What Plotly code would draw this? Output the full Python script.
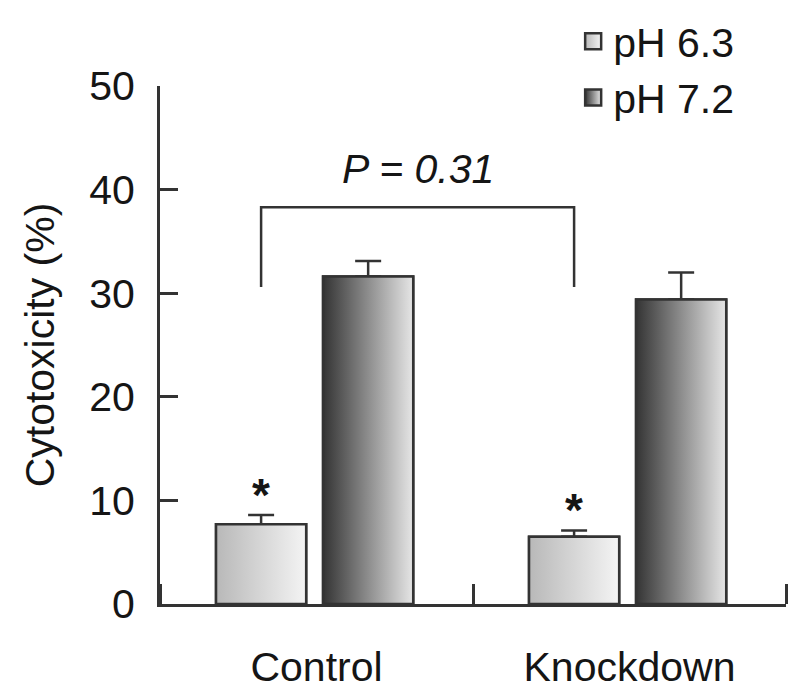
import plotly.graph_objects as go

# ---- data ----
categories = ["Control", "Knockdown"]
series_names = ["pH 6.3", "pH 7.2"]
ph63_values = [7.7, 6.5]
ph63_err_top = [8.6, 7.1]
ph72_values = [31.6, 29.4]
ph72_err_top = [33.1, 32.0]
y_ticks = [0, 10, 20, 30, 40, 50]
p_label = "P = 0.31"
bracket_top = 38.3
bracket_bottom = 30.6

# ---- style ----
FONT = "Liberation Sans, Arial, Helvetica, sans-serif"
DARK = "#333333"
TXT = "#151515"
bar_width = 0.288
offsets = [-0.321, 0.021]
grads = [("#b8b8b8", "#f4f4f4"), ("#343434", "#e6e6e6")]
mids = ["#d8d8d8", "#8c8c8c"]

xs = list(range(len(categories)))
values = [ph63_values, ph72_values]
err_tops = [ph63_err_top, ph72_err_top]

fig = go.Figure()

# bars (data + error bars)
for s in range(2):
    fig.add_trace(go.Bar(
        x=xs, y=values[s], name=series_names[s], width=bar_width, offset=offsets[s],
        marker=dict(color=mids[s], line=dict(color=DARK, width=2.5)),
        error_y=dict(type="data", symmetric=False,
                     array=[e - v for e, v in zip(err_tops[s], values[s])],
                     arrayminus=[0] * len(xs), color=DARK, thickness=2.5, width=13),
        showlegend=False,
    ))

# gradient faces of the bars, derived from the same data
for s in range(2):
    for i, v in enumerate(values[s]):
        x0 = xs[i] + offsets[s]
        x1 = x0 + bar_width
        fig.add_trace(go.Scatter(
            x=[x0, x0, x1, x1, x0], y=[0, v, v, 0, 0], mode="lines",
            fill="toself",
            fillgradient=dict(type="horizontal",
                              colorscale=[[0, grads[s][0]], [1, grads[s][1]]]),
            line=dict(color=DARK, width=2.5), showlegend=False, hoverinfo="skip",
        ))

# legend entries
for s in range(2):
    fig.add_trace(go.Scatter(
        x=[None], y=[None], mode="markers", name=series_names[s],
        marker=dict(symbol="square", size=16, color=grads[s][0],
                    gradient=dict(type="horizontal", color=grads[s][1]),
                    line=dict(color=DARK, width=2.5)),
    ))

# significance asterisks on pH 6.3 bars
for i in xs:
    fig.add_annotation(x=xs[i] + offsets[0] + bar_width / 2, y=ph63_err_top[i],
                       text="<b>*</b>", showarrow=False, yanchor="bottom", yshift=-8,
                       font=dict(family=FONT, size=46, color=TXT))

# bracket between the pH 6.3 bars
bx0 = xs[0] + offsets[0] + bar_width / 2
bx1 = xs[1] + offsets[0] + bar_width / 2
fig.add_shape(type="path", xref="x", yref="y",
              path=f"M {bx0},{bracket_bottom} L {bx0},{bracket_top} L {bx1},{bracket_top} L {bx1},{bracket_bottom}",
              line=dict(color=DARK, width=2.5))
fig.add_annotation(x=(bx0 + bx1) / 2, y=bracket_top, text=f"<i>{p_label}</i>",
                   showarrow=False, yanchor="bottom", yshift=13,
                   font=dict(family=FONT, size=41, color=TXT))

# page body has an 8px offset, so the figure is sized/margined to compensate
fig.update_layout(
    width=784, height=688,
    margin=dict(l=152, r=6, t=78, b=92, autoexpand=False),
    paper_bgcolor="white", plot_bgcolor="white",
    barmode="overlay",
    font=dict(family=FONT, size=41, color=TXT),
    legend=dict(x=0.66, y=1.0, xanchor="left", yanchor="top", yref="container",
                font=dict(family=FONT, size=41, color=TXT),
                bgcolor="rgba(0,0,0,0)", tracegroupgap=0),
    xaxis=dict(range=[-0.5, 1.5], tickvals=xs, ticktext=categories, ticks="",
               showline=True, linecolor=DARK, linewidth=3, showgrid=False,
               zeroline=False, ticklabelstandoff=25,
               minor=dict(tickmode="array", tickvals=[-0.5, 0.5, 1.5], ticks="inside",
                          ticklen=20, tickwidth=3, tickcolor=DARK, showgrid=False)),
    yaxis=dict(range=[0, 50], tickvals=y_ticks, ticks="inside", ticklen=18,
               tickwidth=3, tickcolor=DARK, showline=True, linecolor=DARK,
               linewidth=3, showgrid=False, zeroline=False, ticklabelstandoff=14,
               title=dict(text="Cytotoxicity (%)", standoff=22,
                          font=dict(family=FONT, size=41))),
)

fig.write_html("out.html")
